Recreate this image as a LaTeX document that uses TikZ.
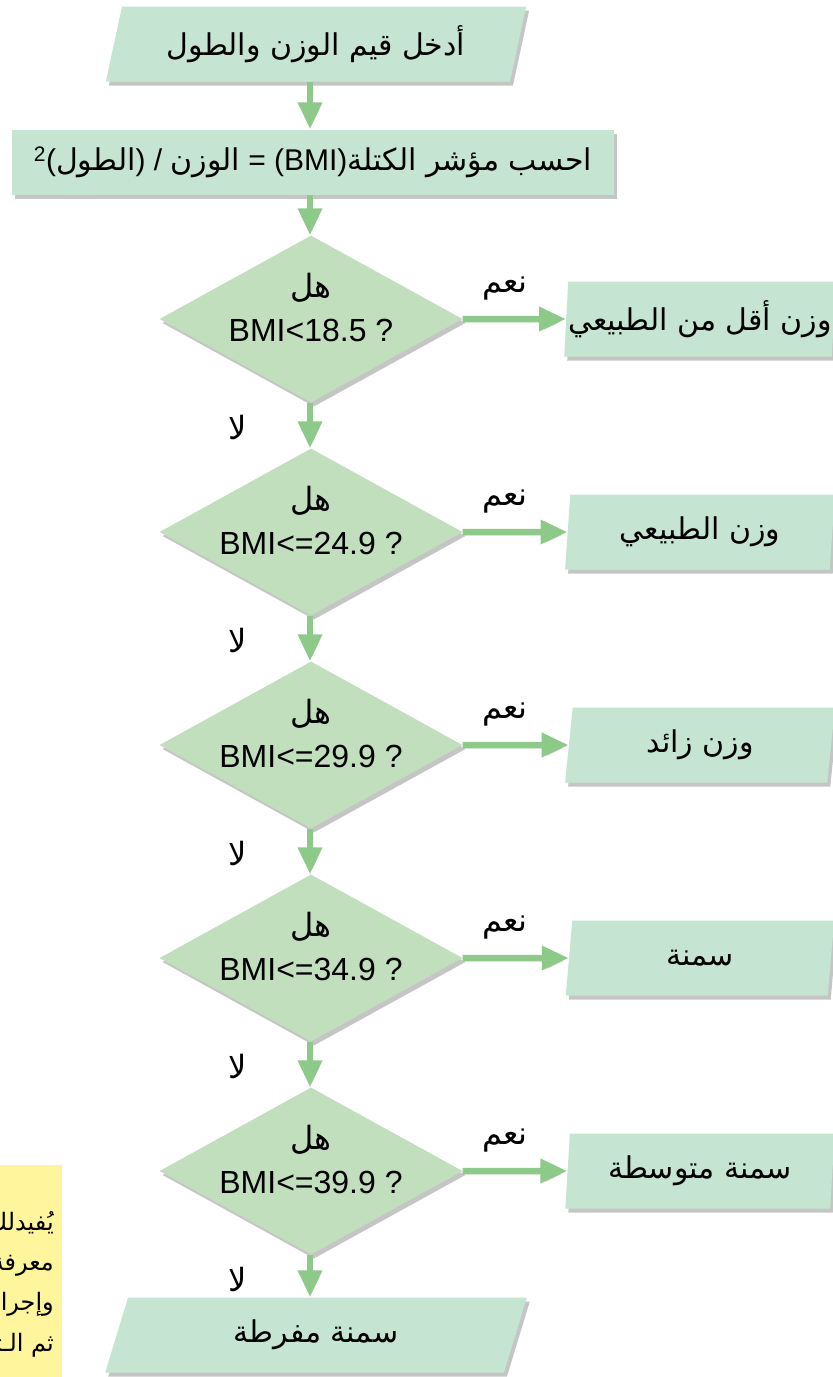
\documentclass[tikz,border=0pt]{standalone}
\usepackage{fontspec}
\setmainfont{Liberation Sans}
\newfontfamily\arabicfont[Script=Arabic]{DejaVu Sans}
\TeXXeTstate=1
\usetikzlibrary{shapes.geometric,arrows.meta,shadows,calc}
\newcommand{\ar}[1]{{\arabicfont\beginR #1\endR}}
\definecolor{boxgreen}{RGB}{198,228,210}
\definecolor{diagreen}{RGB}{193,222,189}
\definecolor{arrowgreen}{RGB}{141,201,137}
\definecolor{noteyellow}{RGB}{255,245,157}
\tikzset{
  shad/.style={drop shadow={shadow xshift=3pt, shadow yshift=-4pt, fill=black!45, opacity=.5}},
  iobox/.style={trapezium, trapezium left angle=71.6, trapezium right angle=108.4,
    trapezium stretches=true, fill=boxgreen, minimum width=422pt, minimum height=75pt,
    inner sep=0pt, shad, font=\fontsize{30}{36}\selectfont},
  outbox/.style={trapezium, trapezium left angle=83.9, trapezium right angle=96.1,
    trapezium stretches=true, fill=boxgreen, minimum width=270pt, minimum height=75pt,
    inner sep=0pt, shad, font=\fontsize{30}{36}\selectfont},
  procbox/.style={rectangle, fill=boxgreen, minimum width=602pt, minimum height=65pt,
    inner sep=0pt, shad, font=\fontsize{30}{36}\selectfont},
  decision/.style={diamond, fill=diagreen, minimum width=303pt, minimum height=167pt,
    inner sep=0pt, shad},
  dtext/.style={align=center, font=\fontsize{32}{38}\selectfont, inner sep=0pt},
  lbl/.style={font=\fontsize{32}{38}\selectfont, inner sep=0pt},
  flow/.style={draw=arrowgreen, line width=6.5pt, -{Triangle[width=23pt,length=27pt]},
    preaction={draw=black!40, opacity=.35, transform canvas={shift={(2pt,-3pt)}}}},
  notetxt/.style={anchor=east, inner sep=0pt, font=\fontsize{24}{30}\selectfont}
}
\begin{document}
\begin{tikzpicture}[x=1pt,y=-1pt]
\useasboundingbox (0,0) rectangle (833,1377);
\coordinate (axis) at (310,0);

% yellow note (cut by the picture's left edge)
\fill[noteyellow] (0,1165) rectangle (62,1377);
\begin{scope}
\clip (0,1165) rectangle (62,1377);
\node[notetxt] (note1) at (54,1224) {\ar{يُفيدلك في}};
\node[notetxt] (note2) at (54,1264) {\ar{معرفة الوزن}};
\node[notetxt] (note3) at (54,1304) {\ar{وإجراء الحساب}};
\node[notetxt] (note4) at (54,1345) {\ar{ثم الـتصنيف}};
\end{scope}

% main shapes
\node[iobox] (in) at (316,44) {\ar{أدخل قيم الوزن والطول}};
\node[procbox] (calc) at (313,162) {\textsuperscript{2}(\ar{الطول}) / \ar{الوزن} = (BMI)\ar{احسب مؤشر الكتلة}};

\foreach \i/\y/\t/\r in {1/319/{BMI<18.5 ?}/{وزن أقل من الطبيعي},
                         2/532/{BMI<=24.9 ?}/{وزن الطبيعي},
                         3/745/{BMI<=29.9 ?}/{وزن زائد},
                         4/958/{BMI<=34.9 ?}/{سمنة},
                         5/1171/{BMI<=39.9 ?}/{سمنة متوسطة}}{
  \node[decision] (d\i) at (311,\y) {};
  \node[dtext] (dt\i) at (311,\y-12) {\ar{هل}\\[6pt]\t};
  \node[outbox] (o\i) at (700,\y) {\ar{\r}};
  \draw[flow] (d\i.east) -- (o\i.west);
  \node[lbl] (yes\i) at (505,\y-30) {\ar{نعم}};
  \node[lbl] (no\i) at (238,\y+108) {\ar{لا}};
}

\node[iobox] (out) at (316,1335) {\ar{سمنة مفرطة}};

% vertical connectors
\draw[flow] (in.south -| axis) -- (calc.north -| axis);
\draw[flow] (calc.south -| axis) -- (d1.north -| axis);
\draw[flow] (d1.south -| axis) -- (d2.north -| axis);
\draw[flow] (d2.south -| axis) -- (d3.north -| axis);
\draw[flow] (d3.south -| axis) -- (d4.north -| axis);
\draw[flow] (d4.south -| axis) -- (d5.north -| axis);
\draw[flow] (d5.south -| axis) -- (out.north -| axis);
\end{tikzpicture}
\end{document}
